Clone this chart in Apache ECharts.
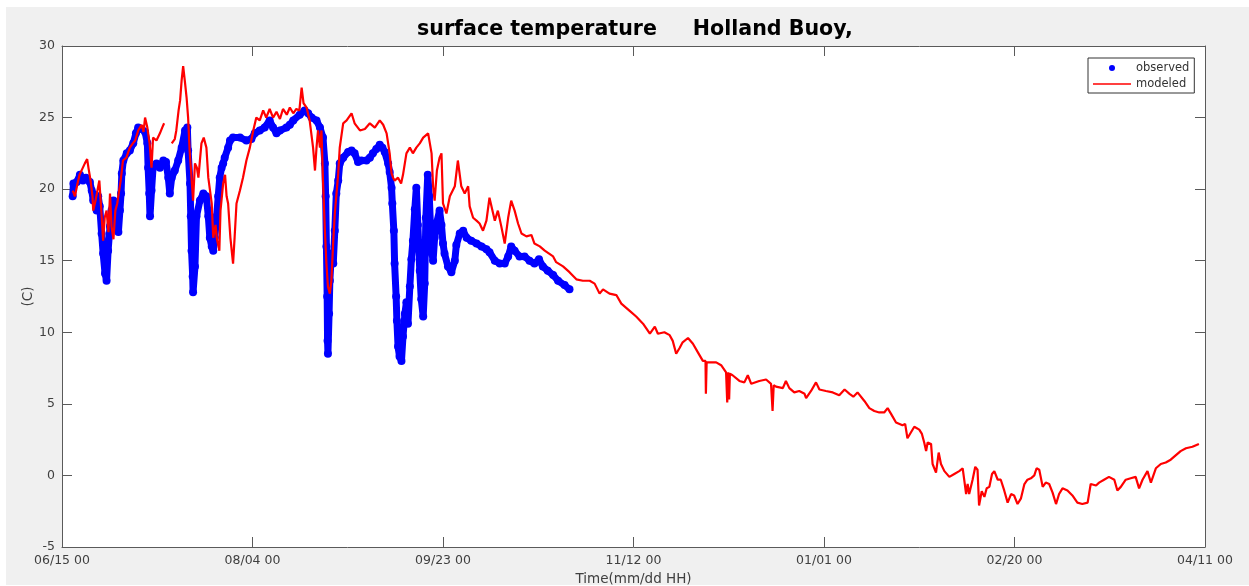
<!DOCTYPE html>
<html><head><meta charset="utf-8">
<script src="https://cdn.jsdelivr.net/npm/echarts@6/dist/echarts.min.js"></script>
<style>html,body{margin:0;padding:0;background:#fff}#c{position:absolute;left:6px;top:7px;width:1243px;height:578px}</style>
</head><body><div id="c"></div><script>
// Title and tick labels
const titleText = 'surface temperature     Holland Buoy,';
const xTickLabels = ['06/15 00','08/04 00','09/23 00','11/12 00','01/01 00','02/20 00','04/11 00'];
const xTickStepDays = 50;
const xMaxDays = 300;
const yMin = -5, yMax = 30, yStep = 5;

// observed: [days since 06/15 00, temperature C]
const observed = [
[2.8,19.5],[3.0,20.4],[3.9,20.5],[4.7,21.0],[5.5,20.6],[6.3,20.8],[7.3,20.5],[7.8,19.9],[8.2,19.2],[8.6,19.6],
[9.1,18.5],[9.5,19.5],[9.9,18.8],[10.4,16.9],[10.8,15.5],[11.3,14.1],[11.7,13.6],[12.1,15.7],[12.6,17.4],[13.0,18.5],
[13.5,19.2],[13.9,18.3],[14.3,17.4],[14.8,17.0],[15.2,18.5],[15.5,19.7],[15.7,21.1],[16.1,22.0],[17.0,22.5],[17.8,22.7],
[18.7,23.2],[19.4,23.9],[20.0,24.3],[20.9,24.2],[21.8,24.0],[22.4,23.2],[22.6,21.5],[22.9,19.7],[23.1,18.1],[23.5,19.9],
[23.9,21.5],[24.8,21.8],[25.7,21.5],[26.6,22.0],[27.3,21.9],[27.9,20.8],[28.3,19.7],[28.8,20.8],[29.6,21.3],[30.5,22.0],
[31.4,22.9],[32.3,24.1],[32.9,24.3],[33.1,22.7],[33.6,20.4],[33.8,18.1],[34.0,15.7],[34.3,13.9],[34.4,12.8],[34.9,14.6],
[35.3,18.1],[36.2,19.2],[37.1,19.7],[37.9,19.5],[38.4,18.1],[38.8,16.6],[39.3,16.0],[39.7,15.7],[40.1,16.6],[40.6,18.1],
[41.0,19.5],[41.4,20.8],[41.9,21.5],[42.3,21.8],[42.7,22.2],[43.6,22.9],[44.1,23.4],[44.9,23.6],[46.7,23.6],[48.4,23.4],
[49.7,23.5],[50.6,23.9],[51.9,24.1],[53.2,24.3],[54.5,24.8],[55.4,24.3],[56.3,23.9],[57.2,24.1],[58.9,24.3],[59.8,24.5],
[60.7,24.8],[62.4,25.2],[63.7,25.5],[64.6,25.3],[65.5,25.0],[66.8,24.8],[67.7,24.3],[68.5,23.6],[69.0,21.8],[69.2,19.5],
[69.4,16.0],[69.6,12.5],[69.7,9.4],[69.8,8.5],[70.1,11.3],[70.3,13.6],[70.7,15.5],[71.2,14.8],[71.6,17.1],[72.0,19.7],
[72.5,20.6],[72.9,21.8],[73.8,22.2],[75.1,22.6],[76.0,22.7],[76.8,22.5],[77.7,21.9],[78.6,22.0],[79.9,22.0],[80.8,22.2],
[81.6,22.5],[82.5,22.8],[83.4,23.1],[84.1,22.9],[84.7,22.6],[85.6,21.8],[86.0,21.2],[86.5,20.1],[86.7,19.0],[87.1,17.1],
[87.3,14.8],[87.7,12.5],[87.9,10.8],[88.2,9.0],[88.6,8.3],[89.1,8.0],[89.5,9.7],[90.0,11.3],[90.4,12.1],[90.8,10.6],
[91.3,13.2],[91.7,15.1],[92.1,16.4],[92.6,18.6],[93.0,20.1],[93.4,17.5],[93.9,14.3],[94.3,12.3],[94.8,11.1],[95.2,13.4],
[95.5,18.0],[96.0,21.0],[96.4,19.5],[96.7,17.5],[97.0,15.7],[97.4,15.0],[97.8,16.6],[98.3,17.6],[99.1,18.5],[99.6,17.5],
[100.0,16.2],[100.4,15.5],[101.3,14.6],[102.2,14.2],[103.1,15.0],[103.5,16.1],[104.4,16.9],[105.3,17.1],[106.2,16.6],[107.4,16.4],
[108.8,16.2],[110.1,16.0],[111.4,15.8],[112.2,15.6],[113.6,15.0],[114.9,14.8],[116.2,14.8],[117.1,15.3],[117.9,16.0],[118.8,15.7],
[120.1,15.3],[121.4,15.3],[122.7,15.0],[124.0,14.8],[125.2,15.1],[126.2,14.6],[127.5,14.3],[128.9,14.0],[130.2,13.6],[131.9,13.3],
[133.2,13.0]
];

// modeled: [days since 06/15 00, temperature C]; null marks a gap
const modeled = [
[2.8,19.9],[3.4,19.5],[4.0,20.3],[4.6,21.0],[5.3,21.4],[6.0,21.8],[6.6,22.1],[7.0,21.4],[7.5,20.6],[8.0,19.5],
[8.2,18.5],[8.8,19.2],[9.3,19.9],[9.8,20.6],[10.2,19.0],[10.8,16.4],[11.2,18.0],[11.7,18.5],[12.2,17.0],[12.6,19.7],
[13.0,17.4],[13.5,16.5],[14.0,18.5],[14.5,19.0],[15.0,19.9],[15.4,20.6],[16.0,22.0],[16.9,22.2],[17.8,22.9],[18.6,23.2],
[19.2,23.4],[20.0,24.1],[20.9,24.5],[21.4,24.0],[21.8,25.0],[22.4,24.3],[23.0,23.2],[23.5,21.5],[23.9,23.6],[24.8,23.4],
[25.7,23.9],[26.3,24.3],[26.8,24.6],[27.8,null],[28.8,23.2],[29.6,23.5],[30.0,24.1],[30.6,25.5],[31.0,26.2],[31.4,27.6],
[31.8,28.6],[32.3,27.4],[32.7,26.4],[33.1,25.0],[33.5,22.7],[34.0,20.8],[34.4,19.2],[34.9,21.8],[35.4,21.5],[35.8,20.8],
[36.6,23.2],[37.2,23.6],[37.9,22.9],[38.4,20.8],[39.3,19.0],[39.7,16.6],[40.3,17.5],[40.6,16.6],[41.3,15.7],[41.6,18.5],
[42.3,20.4],[42.8,21.0],[43.2,19.5],[43.6,19.0],[44.2,16.6],[44.9,14.8],[45.3,16.6],[45.8,19.0],[46.7,19.9],[47.5,20.8],
[48.4,22.0],[49.3,22.9],[50.2,24.1],[51.0,25.0],[51.9,24.8],[52.8,25.5],[53.6,25.0],[54.5,25.6],[55.4,25.0],[56.3,25.4],
[57.2,24.9],[58.0,25.6],[59.0,25.2],[59.8,25.7],[60.7,25.3],[61.5,25.6],[62.3,25.5],[62.9,27.1],[63.4,26.0],[64.2,25.7],
[65.0,24.8],[65.9,22.9],[66.4,21.3],[66.8,22.9],[67.2,24.1],[67.7,22.9],[68.1,24.1],[68.5,20.6],[69.0,17.1],[69.4,14.8],
[69.8,13.2],[70.3,12.7],[70.7,13.6],[71.2,16.4],[71.6,18.3],[72.5,21.1],[72.9,22.9],[73.8,24.6],[74.7,24.8],[76.0,25.3],
[76.8,24.6],[78.2,24.1],[79.5,24.2],[80.8,24.6],[82.1,24.3],[83.4,24.8],[84.3,24.5],[85.2,23.9],[86.0,22.5],[86.5,21.1],
[86.9,20.8],[87.3,20.6],[88.2,20.8],[89.0,20.4],[89.5,21.0],[90.4,22.5],[91.3,22.9],[92.1,22.5],[93.0,22.9],[93.9,23.2],
[94.8,23.6],[96.1,23.9],[97.0,22.5],[97.4,20.2],[97.8,19.2],[98.4,21.3],[99.1,22.2],[99.6,22.5],[100.0,19.0],[100.9,18.3],
[101.8,19.5],[103.1,20.2],[103.9,22.0],[104.8,20.2],[105.7,19.7],[106.6,20.2],[107.0,18.8],[107.9,18.0],[108.8,17.8],[109.6,17.6],
[110.5,17.1],[111.4,17.8],[112.2,19.4],[113.6,17.8],[114.4,18.5],[115.3,17.4],[116.2,16.2],[117.1,18.0],[117.9,19.2],[118.8,18.5],
[119.7,17.6],[120.6,16.9],[121.9,16.7],[123.2,16.8],[124.0,16.2],[125.4,16.0],[126.7,15.7],[128.9,15.3],[129.7,14.9],[131.5,14.6],
[133.2,14.2],[135.0,13.7],[136.7,13.6],[138.5,13.6],[139.8,13.4],[141.1,12.7],[142.0,13.0],[143.7,12.7],[145.5,12.6],[146.8,12.0],
[149.0,11.5],[150.7,11.1],[152.5,10.6],[154.3,9.9],[155.6,10.4],[156.4,9.9],[158.1,10.0],[159.5,9.8],[160.3,9.4],[161.2,8.5],
[162.1,8.9],[162.9,9.3],[164.3,9.6],[165.6,9.2],[166.9,8.6],[168.2,8.0],[168.9,8.0],[169.0,5.7],[169.2,7.9],[169.9,7.9],
[171.7,7.9],[173.0,7.7],[174.3,7.2],[174.6,5.1],[174.9,7.2],[175.1,5.3],[175.3,7.1],[176.0,7.0],[177.8,6.6],[179.1,6.5],
[180.0,7.0],[180.9,6.4],[183.0,6.6],[184.8,6.7],[186.1,6.4],[186.5,4.5],[186.8,6.3],[187.4,6.2],[189.2,6.1],[190.0,6.6],
[190.9,6.1],[192.2,5.8],[193.5,5.9],[194.9,5.7],[195.3,5.4],[196.6,5.9],[197.9,6.5],[198.8,6.0],[200.5,5.9],[202.3,5.8],
[204.0,5.6],[205.4,6.0],[206.7,5.7],[207.7,5.5],[208.8,5.8],[210.6,5.2],[211.9,4.7],[213.2,4.5],[214.5,4.4],[215.8,4.4],
[216.7,4.7],[217.6,4.3],[218.9,3.7],[220.6,3.5],[221.3,3.6],[221.9,2.6],[222.8,3.0],[223.7,3.4],[225.0,3.2],[225.7,2.9],
[226.3,2.3],[226.8,1.7],[227.2,2.3],[228.1,2.2],[228.5,0.8],[229.4,0.2],[230.1,1.6],[230.7,0.8],[231.6,0.3],[232.9,-0.1],
[234.2,0.1],[235.5,0.3],[236.4,0.5],[236.8,-0.3],[237.3,-1.3],[237.7,-0.6],[238.1,-1.3],[239.0,-0.3],[239.7,0.6],[240.3,0.4],
[240.7,-2.1],[241.4,-1.1],[242.1,-1.5],[242.7,-0.9],[243.4,-0.8],[244.1,0.1],[244.7,0.3],[245.6,-0.3],[246.4,-0.3],[247.3,-1.05],
[248.2,-1.9],[249.1,-1.3],[249.9,-1.4],[250.8,-2.0],[251.7,-1.6],[252.6,-0.6],[253.4,-0.3],[254.3,-0.2],[255.2,0.0],[255.8,0.5],
[256.5,0.4],[257.4,-0.8],[258.2,-0.5],[259.1,-0.6],[260.0,-1.2],[260.9,-2.0],[261.7,-1.3],[262.6,-0.9],[263.9,-1.05],[265.2,-1.4],
[266.5,-1.9],[267.8,-2.0],[269.2,-1.9],[270.0,-0.6],[271.4,-0.7],[272.2,-0.5],[273.5,-0.3],[274.8,-0.1],[276.2,-0.3],[277.0,-1.05],
[277.9,-0.8],[279.2,-0.3],[280.5,-0.2],[281.8,-0.1],[282.7,-0.9],[283.6,-0.3],[284.9,0.3],[285.8,-0.5],[287.1,0.5],[288.4,0.8],
[289.7,0.9],[291.0,1.1],[292.3,1.4],[293.6,1.7],[295.0,1.9],[296.7,2.0],[298.4,2.2]
];

const font = 'DejaVu Sans';
const axisColor = '#5a5a5a';
const textColor = '#404040';

function axisCommon(extra) {
  return Object.assign({
    type: 'value',
    axisLine: { show: true, onZero: false, lineStyle: { color: axisColor, width: 1 } },
    axisTick: { show: true, inside: true, length: 10, lineStyle: { color: axisColor } },
    splitLine: { show: false }
  }, extra);
}

const chart = echarts.init(document.getElementById('c'));
chart.setOption({
  backgroundColor: '#f0f0f0',
  animation: false,
  title: {
    text: titleText, left: 411, top: 12, padding: 0,
    textStyle: { fontFamily: font, fontSize: 20.6, fontWeight: 'bold', color: '#000' }
  },
  legend: {
    left: 1082, top: 51, orient: 'vertical',
    itemWidth: 38, itemHeight: 6, itemGap: 4,
    padding: [4, 5, 3, 5],
    borderColor: '#333', borderWidth: 1, backgroundColor: '#fff',
    textStyle: { fontFamily: font, fontSize: 11.5, color: '#333' },
    data: [
      { name: 'observed', icon: 'circle', itemStyle: { color: '#0000ff' } },
      { name: 'modeled', icon: 'path://M0,0L40,0L40,1.4L0,1.4Z', itemStyle: { color: '#ff0000' } }
    ]
  },
  grid: { left: 56, top: 39, width: 1143, height: 501, show: true, backgroundColor: '#fff', borderWidth: 0, outerBoundsMode: 'none', containLabel: false },
  xAxis: [
    axisCommon({
      position: 'bottom', min: 0, max: xMaxDays, interval: xTickStepDays,
      axisLabel: { formatter: v => xTickLabels[Math.round(v / xTickStepDays)], color: textColor, fontFamily: font, fontSize: 12.5, margin: 7 },
      name: 'Time(mm/dd HH)', nameLocation: 'middle', nameGap: 25, nameMoveOverlap: false,
      nameTextStyle: { color: textColor, fontFamily: font, fontSize: 13.5 }
    }),
    axisCommon({
      position: 'top', min: 0, max: xMaxDays, interval: xTickStepDays,
      axisLabel: { show: false }
    })
  ],
  yAxis: [
    axisCommon({
      position: 'left', min: yMin, max: yMax, interval: yStep,
      axisLabel: { color: textColor, fontFamily: font, fontSize: 12.5, margin: 7 },
      name: '(C)', nameLocation: 'middle', nameGap: 27, nameRotate: 90, nameMoveOverlap: false,
      nameTextStyle: { color: textColor, fontFamily: font, fontSize: 13.5 }
    }),
    axisCommon({
      position: 'right', min: yMin, max: yMax, interval: yStep,
      axisLabel: { show: false }
    })
  ],
  series: [
    {
      name: 'observed', type: 'line', data: observed, xAxisIndex: 0, yAxisIndex: 0,
      symbol: 'circle', symbolSize: 8, showSymbol: true, showAllSymbol: true,
      itemStyle: { color: '#0000ff' },
      lineStyle: { color: '#0000ff', width: 7 },
      emphasis: { disabled: true }, z: 2
    },
    {
      name: 'modeled', type: 'line', data: modeled, xAxisIndex: 0, yAxisIndex: 0,
      symbol: 'none', connectNulls: false,
      itemStyle: { color: '#ff0000' },
      lineStyle: { color: '#ff0000', width: 2.2 },
      emphasis: { disabled: true }, z: 3
    }
  ]
});
</script></body></html>
